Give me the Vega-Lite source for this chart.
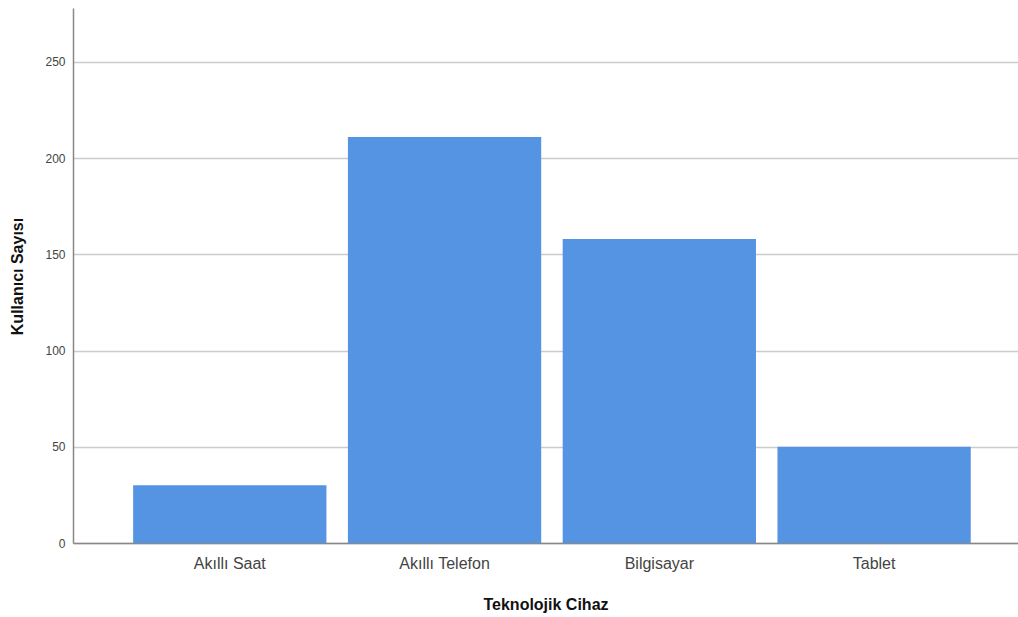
{
  "$schema": "https://vega.github.io/schema/vega-lite/v6.json",
  "autosize": "none",
  "padding": {"left": 73, "top": 8, "right": 0, "bottom": 74},
  "width": 945,
  "height": 535,
  "background": "white",
  "config": {
    "view": {"stroke": null},
    "font": "Liberation Sans"
  },
  "data": {
    "values": [
      {"cihaz": "Akıllı Saat", "sayi": 30},
      {"cihaz": "Akıllı Telefon", "sayi": 211},
      {"cihaz": "Bilgisayar", "sayi": 158},
      {"cihaz": "Tablet", "sayi": 50}
    ]
  },
  "mark": {"type": "bar", "color": "#5594e2"},
  "encoding": {
    "x": {
      "field": "cihaz",
      "type": "nominal",
      "sort": null,
      "scale": {"paddingInner": 0.1, "paddingOuter": 0.25, "align": 0.56},
      "axis": {
        "title": "Teknolojik Cihaz",
        "titleFont": "Liberation Sans",
        "titleFontSize": 16,
        "titleFontWeight": "bold",
        "titleColor": "#111111",
        "titlePadding": 25,
        "labelAngle": 0,
        "labelFontSize": 16,
        "labelColor": "#444444",
        "labelPadding": 12,
        "ticks": false,
        "domainColor": "#888888",
        "domainWidth": 1.5,
        "grid": false
      }
    },
    "y": {
      "field": "sayi",
      "type": "quantitative",
      "scale": {"domain": [0, 278], "nice": false},
      "axis": {
        "title": "Kullanıcı Sayısı",
        "titleFontSize": 16,
        "titleFontWeight": "bold",
        "titleColor": "#111111",
        "titleAngle": -90,
        "titleBaseline": "middle",
        "titleX": -56,
        "titleY": 268,
        "values": [0, 50, 100, 150, 200, 250],
        "labelFontSize": 12,
        "labelColor": "#444444",
        "labelPadding": 8,
        "ticks": false,
        "domainColor": "#888888",
        "domainWidth": 1.5,
        "grid": true,
        "gridColor": "#cccccc",
        "gridWidth": 1.5
      }
    }
  }
}
